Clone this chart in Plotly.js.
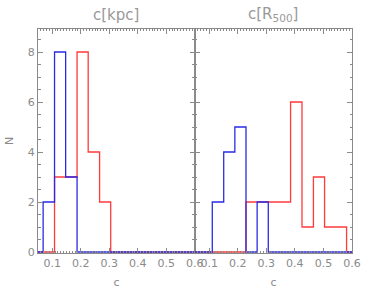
<!DOCTYPE html>
<html><head><meta charset="utf-8">
<script src="https://cdn.plot.ly/plotly-3.0.1.min.js"></script>
<style>html,body{margin:0;padding:0;background:#fff;}#chart{width:374px;height:292px;}</style>
</head><body><div id="chart"></div>
<script>
// Left panel: c[kpc]
const edgesKpc = [0.068, 0.108, 0.147, 0.187, 0.226, 0.266, 0.305];
const blueKpc  = [2, 8, 3, 0, 0, 0];
const redKpc   = [0, 3, 3, 8, 4, 2];
// Right panel: c[R500]
const edgesR500 = [0.111, 0.151, 0.190, 0.229, 0.268, 0.307, 0.347, 0.385, 0.425, 0.465, 0.504, 0.543, 0.581];
const blueR500  = [2, 4, 5, 0, 2, 0, 0, 0, 0, 0, 0, 0];
const redR500   = [0, 0, 0, 2, 2, 2, 2, 6, 1, 3, 1, 1];
const xRange = [0.05, 0.6];
const xTicks = [0.1, 0.2, 0.3, 0.4, 0.5, 0.6];
const xTickText = ['0.1', '0.2', '0.3', '0.4', '0.5', '0.6'];
const yTicks = [0, 2, 4, 6, 8];
const panelTitles = ['c[kpc]', 'c[R<sub>500</sub>]'];

const BLUE = '#2a2ae6', RED = '#ff3a3a', GRAY = '#8a8a8a';

function step(edges, counts) {
  const x = [xRange[0]], y = [0];
  for (let i = 0; i < counts.length; i++) { x.push(edges[i]); y.push(counts[i]); }
  x.push(edges[edges.length - 1]); y.push(0);
  x.push(xRange[1]); y.push(0);
  return {x, y};
}
function trace(edges, counts, color, xa, ya) {
  const s = step(edges, counts);
  return {x: s.x, y: s.y, xaxis: xa, yaxis: ya, mode: 'lines', type: 'scatter',
    line: {shape: 'hv', color: color, width: 1.3}, hoverinfo: 'skip', showlegend: false};
}
const data = [
  trace(edgesKpc, redKpc, RED, 'x', 'y'),
  trace(edgesKpc, blueKpc, BLUE, 'x', 'y'),
  trace(edgesR500, redR500, RED, 'x2', 'y2'),
  trace(edgesR500, blueR500, BLUE, 'x2', 'y2')
];
const font = {family: 'DejaVu Sans, sans-serif', color: GRAY, size: 11};
function xaxis(domain, anchor) {
  return {domain, anchor, range: xRange, tickvals: xTicks, ticktext: xTickText,
    ticks: 'inside', ticklen: 5, tickcolor: GRAY, tickwidth: 1,
    minor: {dtick: 0.01, tick0: 0, ticks: 'inside', ticklen: 2, tickcolor: GRAY},
    showline: true, linecolor: GRAY, linewidth: 1, mirror: 'allticks',
    showgrid: false, zeroline: false, tickfont: font,
    title: {text: 'c', font: {family: font.family, color: GRAY, size: 11}, standoff: 9}};
}
function yaxis(anchor, labels) {
  return {domain: [0, 1], anchor, range: [-0.04, 8.92], tickvals: yTicks,
    showticklabels: labels,
    ticks: 'inside', ticklen: 5, tickcolor: GRAY, tickwidth: 1,
    minor: {dtick: 0.5, ticks: 'inside', ticklen: 2.5, tickcolor: GRAY},
    showline: true, linecolor: GRAY, linewidth: 1, mirror: 'allticks',
    showgrid: false, zeroline: false, tickfont: font,
    title: labels ? {text: 'N', font: {family: font.family, color: GRAY, size: 11}, standoff: 11} : {text: ''}};
}
const split = (195 - 38.3) / (352 - 38.3);
const layout = {
  width: 374, height: 292,
  margin: {l: 38, r: 22, t: 29, b: 39},
  paper_bgcolor: '#fff', plot_bgcolor: '#fff',
  xaxis: xaxis([0, split], 'y'),
  yaxis: yaxis('x', true),
  xaxis2: xaxis([split, 1], 'y2'),
  yaxis2: yaxis('x2', false),
  annotations: [
    {text: panelTitles[0], xref: 'paper', yref: 'paper', x: split / 2, y: 1, yshift: 3,
      xanchor: 'center', yanchor: 'bottom', showarrow: false,
      font: {family: font.family, color: '#999', size: 15}},
    {text: panelTitles[1], xref: 'paper', yref: 'paper', x: (1 + split) / 2, y: 1, yshift: 3,
      xanchor: 'center', yanchor: 'bottom', showarrow: false,
      font: {family: font.family, color: '#999', size: 15}}
  ]
};
Plotly.newPlot('chart', data, layout, {staticPlot: true, displayModeBar: false});
</script></body></html>
